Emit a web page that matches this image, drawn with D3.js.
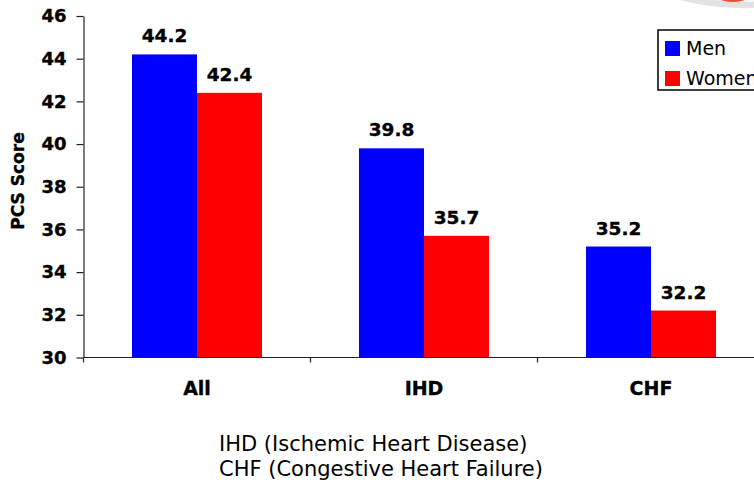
<!DOCTYPE html>
<html>
<head>
<meta charset="utf-8">
<script src="https://cdn.jsdelivr.net/npm/d3@7/dist/d3.min.js"></script>
<style>
  html, body { margin: 0; padding: 0; background: #fff; }
  svg { display: block; }
</style>
</head>
<body>
<svg id="chart" width="754" height="485"></svg>
<script>
// PCS scores by condition group and sex
const categories = ["All", "IHD", "CHF"];
const seriesNames = ["Men", "Women"];
const menValues = [44.2, 39.8, 35.2];
const womenValues = [42.4, 35.7, 32.2];
const yTicks = [30, 32, 34, 36, 38, 40, 42, 44, 46];
const seriesColors = ["#0000ff", "#ff0000"];
const footnotes = ["IHD (Ischemic Heart Disease)", "CHF (Congestive Heart Failure)"];

const rows = categories.map((c, i) => ({ category: c, values: [menValues[i], womenValues[i]] }));

const svg = d3.select("#chart");
const font = "'DejaVu Sans', Verdana, sans-serif";

// decorative swoosh in the top right corner
svg.append("ellipse")
  .attr("cx", 742).attr("cy", -30).attr("rx", 100).attr("ry", 38)
  .attr("fill", "#e2e2e2");
svg.append("ellipse")
  .attr("cx", 745).attr("cy", -34).attr("rx", 88).attr("ry", 36)
  .attr("fill", "#f7f7f7");
svg.append("ellipse")
  .attr("cx", 733).attr("cy", -14).attr("rx", 24).attr("ry", 16)
  .attr("fill", "#ef4a2e");

const plotLeft = 83.5;
const bandW = 227;
const barW = 65;

const x0 = d3.scaleBand()
  .domain(categories)
  .range([plotLeft, plotLeft + bandW * categories.length])
  .paddingInner(0).paddingOuter(0);

const x1 = d3.scaleBand()
  .domain(seriesNames)
  .range([(bandW - 2 * barW) / 2, (bandW + 2 * barW) / 2])
  .padding(0);

const y = d3.scaleLinear().domain([30, 46]).range([357.5, 16]);

// bold labels get a hairline stroke for a heavier look
function heavy(sel) {
  sel.attr("font-family", font).attr("font-weight", "bold")
    .attr("fill", "#000").attr("stroke", "#000").attr("stroke-width", 0.35);
}

// bars
const groups = svg.append("g").selectAll("g")
  .data(rows).join("g")
  .attr("transform", d => `translate(${x0(d.category)},0)`);

groups.selectAll("rect")
  .data(d => d.values.map((v, i) => ({ name: seriesNames[i], value: v, color: seriesColors[i] })))
  .join("rect")
  .attr("x", d => x1(d.name))
  .attr("y", d => y(d.value))
  .attr("width", x1.bandwidth())
  .attr("height", d => y(30) - y(d.value))
  .attr("fill", d => d.color);

groups.selectAll("text.val")
  .data(d => d.values.map((v, i) => ({ name: seriesNames[i], value: v })))
  .join("text")
  .attr("class", "val")
  .attr("x", d => x1(d.name) + x1.bandwidth() / 2)
  .attr("y", d => y(d.value) - 12)
  .attr("text-anchor", "middle")
  .attr("font-size", 18.5)
  .call(heavy)
  .text(d => d.value.toFixed(1));

// y axis
const yAxis = svg.append("g")
  .attr("transform", `translate(${plotLeft},0)`)
  .call(d3.axisLeft(y).tickValues(yTicks).tickSize(7).tickSizeOuter(0).tickPadding(10));
yAxis.select(".domain").attr("stroke", "#222").attr("stroke-width", 1.2);
yAxis.selectAll(".tick line").attr("stroke", "#222").attr("stroke-width", 1.2);
yAxis.selectAll(".tick text").attr("font-size", 18).call(heavy);

// x axis with ticks between the categories
const xAxisY = y(30);
const xa = svg.append("g").attr("class", "x-axis");
xa.append("line")
  .attr("x1", x0.range()[0]).attr("x2", x0.range()[1])
  .attr("y1", xAxisY).attr("y2", xAxisY)
  .attr("stroke", "#222").attr("stroke-width", 1.2);
xa.selectAll("line.sep")
  .data(categories.map(c => x0(c)))
  .join("line").attr("class", "sep")
  .attr("x1", d => d).attr("x2", d => d)
  .attr("y1", xAxisY).attr("y2", xAxisY + 5)
  .attr("stroke", "#222").attr("stroke-width", 1.2);
xa.selectAll("text")
  .data(categories).join("text")
  .attr("x", d => x0(d) + bandW / 2)
  .attr("y", 395)
  .attr("text-anchor", "middle")
  .attr("font-size", 19)
  .call(heavy)
  .text(d => d);

// y axis title
svg.append("text")
  .attr("transform", "translate(24,181) rotate(-90)")
  .attr("text-anchor", "middle")
  .attr("font-size", 17)
  .call(heavy)
  .text("PCS Score");

// legend
const legend = svg.append("g").attr("transform", "translate(658,30)");
legend.append("rect")
  .attr("x", 0).attr("y", 0).attr("width", 110).attr("height", 60)
  .attr("fill", "#fff").attr("stroke", "#000").attr("stroke-width", 1.5);
seriesNames.forEach((name, i) => {
  legend.append("rect")
    .attr("x", 7).attr("y", 11 + i * 30).attr("width", 15).attr("height", 15)
    .attr("fill", seriesColors[i]);
  legend.append("text")
    .attr("x", 28).attr("y", 25 + i * 30)
    .attr("font-family", font).attr("font-size", 19).attr("fill", "#000")
    .text(name);
});

// footnotes
svg.selectAll("text.note")
  .data(footnotes).join("text")
  .attr("class", "note")
  .attr("x", 219)
  .attr("y", (d, i) => 451 + i * 25)
  .attr("font-family", font).attr("font-size", 21).attr("fill", "#000")
  .text(d => d);
</script>
</body>
</html>
